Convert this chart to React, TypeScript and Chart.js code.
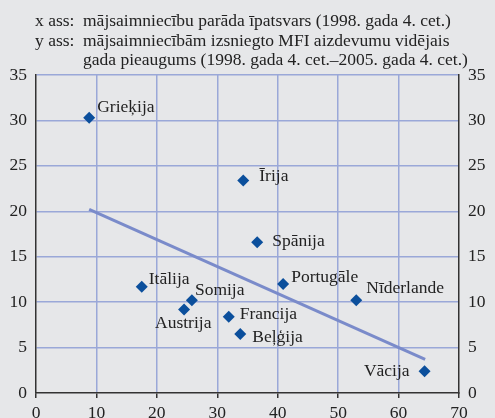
import React, { useEffect, useRef } from "react";
import { Chart, registerables } from "chart.js";

Chart.register(...registerables);

const countries = ["Grieķija", "Īrija", "Spānija", "Itālija", "Somija", "Austrija", "Francija", "Beļģija", "Portugāle", "Nīderlande", "Vācija"];
const debtShare = [8.8, 34.3, 36.6, 17.5, 25.8, 24.5, 31.9, 33.8, 40.9, 53.0, 64.3];
const loanGrowth = [30.3, 23.4, 16.6, 11.7, 10.2, 9.2, 8.4, 6.5, 12.0, 10.2, 2.4];
const trendX = [8.8, 64.4];
const trendY = [20.2, 3.7];
const xTicks = [0, 10, 20, 30, 40, 50, 60, 70];
const yTicks = [0, 5, 10, 15, 20, 25, 30, 35];
const headerLines = [
  ["x ass:", "mājsaimniecību parāda īpatsvars (1998. gada 4. cet.)"],
  ["y ass:", "mājsaimniecībām izsniegto MFI aizdevumu vidējais"],
  ["", "gada pieaugums (1998. gada 4. cet.–2005. gada 4. cet.)"],
];

// label placement relative to point (pixels), style only
const labelOffsets: [number, number, string][] = [
  [8, -6, "left"], [16, 1, "left"], [15, 4, "left"], [7, -3, "left"], [3, -5, "left"],
  [-29, 19, "left"], [11, 2, "left"], [12, 8, "left"], [8, -2, "left"], [10, -7, "left"], [-15, 5, "right"],
];

const BG = "#e6e7e9";
const GRID = "#9aa8d8";
const AXIS = "#333333";
const TEXT = "#222222";
const MARKER = "#0b4f9c";
const TREND = "#7a8bca";
const FONT = "'Liberation Serif', 'Times New Roman', serif";
const FS = 17.5;

export default function App() {
  const ref = useRef<HTMLCanvasElement | null>(null);
  useEffect(() => {
    if (!ref.current) return;
    const labelPlugin = {
      id: "labels",
      afterDatasetsDraw(chart: any) {
        const ctx = chart.ctx;
        const meta = chart.getDatasetMeta(1);
        ctx.save();
        ctx.font = `${FS}px ${FONT}`;
        ctx.fillStyle = TEXT;
        ctx.textBaseline = "alphabetic";
        meta.data.forEach((pt: any, i: number) => {
          const [dx, dy, al] = labelOffsets[i];
          ctx.textAlign = al;
          ctx.fillText(countries[i], pt.x + dx, pt.y + dy);
        });
        ctx.restore();
      },
      beforeDraw(chart: any) {
        const ctx = chart.ctx;
        ctx.save();
        ctx.fillStyle = BG;
        ctx.fillRect(0, 0, chart.width, chart.height);
        ctx.font = `${FS}px ${FONT}`;
        ctx.fillStyle = TEXT;
        ctx.textAlign = "left";
        ctx.textBaseline = "alphabetic";
        const baselines = [26, 46, 65];
        headerLines.forEach((l, i) => {
          if (l[0]) ctx.fillText(l[0], 35, baselines[i]);
          ctx.fillText(l[1], 83, baselines[i]);
        });
        ctx.restore();
      },
    };
    const chart = new Chart(ref.current, {
      type: "scatter",
      data: {
        datasets: [
          {
            type: "line",
            data: trendX.map((x, i) => ({ x, y: trendY[i] })),
            borderColor: TREND,
            borderWidth: 3,
            pointRadius: 0,
            fill: false,
          } as any,
          {
            data: debtShare.map((x, i) => ({ x, y: loanGrowth[i] })),
            pointStyle: "rectRot",
            pointRadius: 6,
            backgroundColor: MARKER,
            borderColor: MARKER,
            borderWidth: 0,
          },
        ],
      },
      plugins: [labelPlugin],
      options: {
        animation: false,
        responsive: false,
        layout: { padding: { top: 75, left: 0, right: 0, bottom: 0 } },
        plugins: { legend: { display: false }, tooltip: { enabled: false } },
        scales: {
          x: {
            type: "linear",
            min: 0,
            max: 70,
            afterFit: (s: any) => { s.height = 25; },
            afterBuildTicks: (s: any) => { s.ticks = xTicks.map((v) => ({ value: v })); },
            grid: {
              color: (c: any) => (c.tick && (c.tick.value === 0 || c.tick.value === 70) ? "rgba(0,0,0,0)" : GRID),
              lineWidth: 1.5,
              tickColor: AXIS,
              tickLength: 5,
              drawTicks: true,
            },
            border: { color: AXIS, width: 1.5 },
            ticks: { color: TEXT, font: { family: FONT, size: FS }, padding: 5, maxRotation: 0 },
          },
          y: {
            position: "left",
            min: 0,
            max: 35,
            afterFit: (s: any) => { s.width = 36; },
            afterBuildTicks: (s: any) => { s.ticks = yTicks.map((v) => ({ value: v })); },
            grid: {
              color: (c: any) => (c.tick && c.tick.value === 0 ? "rgba(0,0,0,0)" : GRID),
              lineWidth: 1.5,
              drawTicks: false,
            },
            border: { color: AXIS, width: 1.5 },
            ticks: { color: TEXT, font: { family: FONT, size: FS }, padding: 9 },
          },
          y2: {
            position: "right",
            min: 0,
            max: 35,
            afterFit: (s: any) => { s.width = 36; },
            afterBuildTicks: (s: any) => { s.ticks = yTicks.map((v) => ({ value: v })); },
            grid: { display: false, drawTicks: false },
            border: { color: AXIS, width: 1.5 },
            ticks: { color: TEXT, font: { family: FONT, size: FS }, padding: 9 },
          },
        },
      } as any,
    });
    return () => chart.destroy();
  }, []);
  return (
    <div style={{ position: "fixed", left: 0, top: 0, width: 495, height: 418, background: BG }}>
      <canvas ref={ref} width={495} height={418} style={{ width: 495, height: 418, display: "block" }} />
    </div>
  );
}
